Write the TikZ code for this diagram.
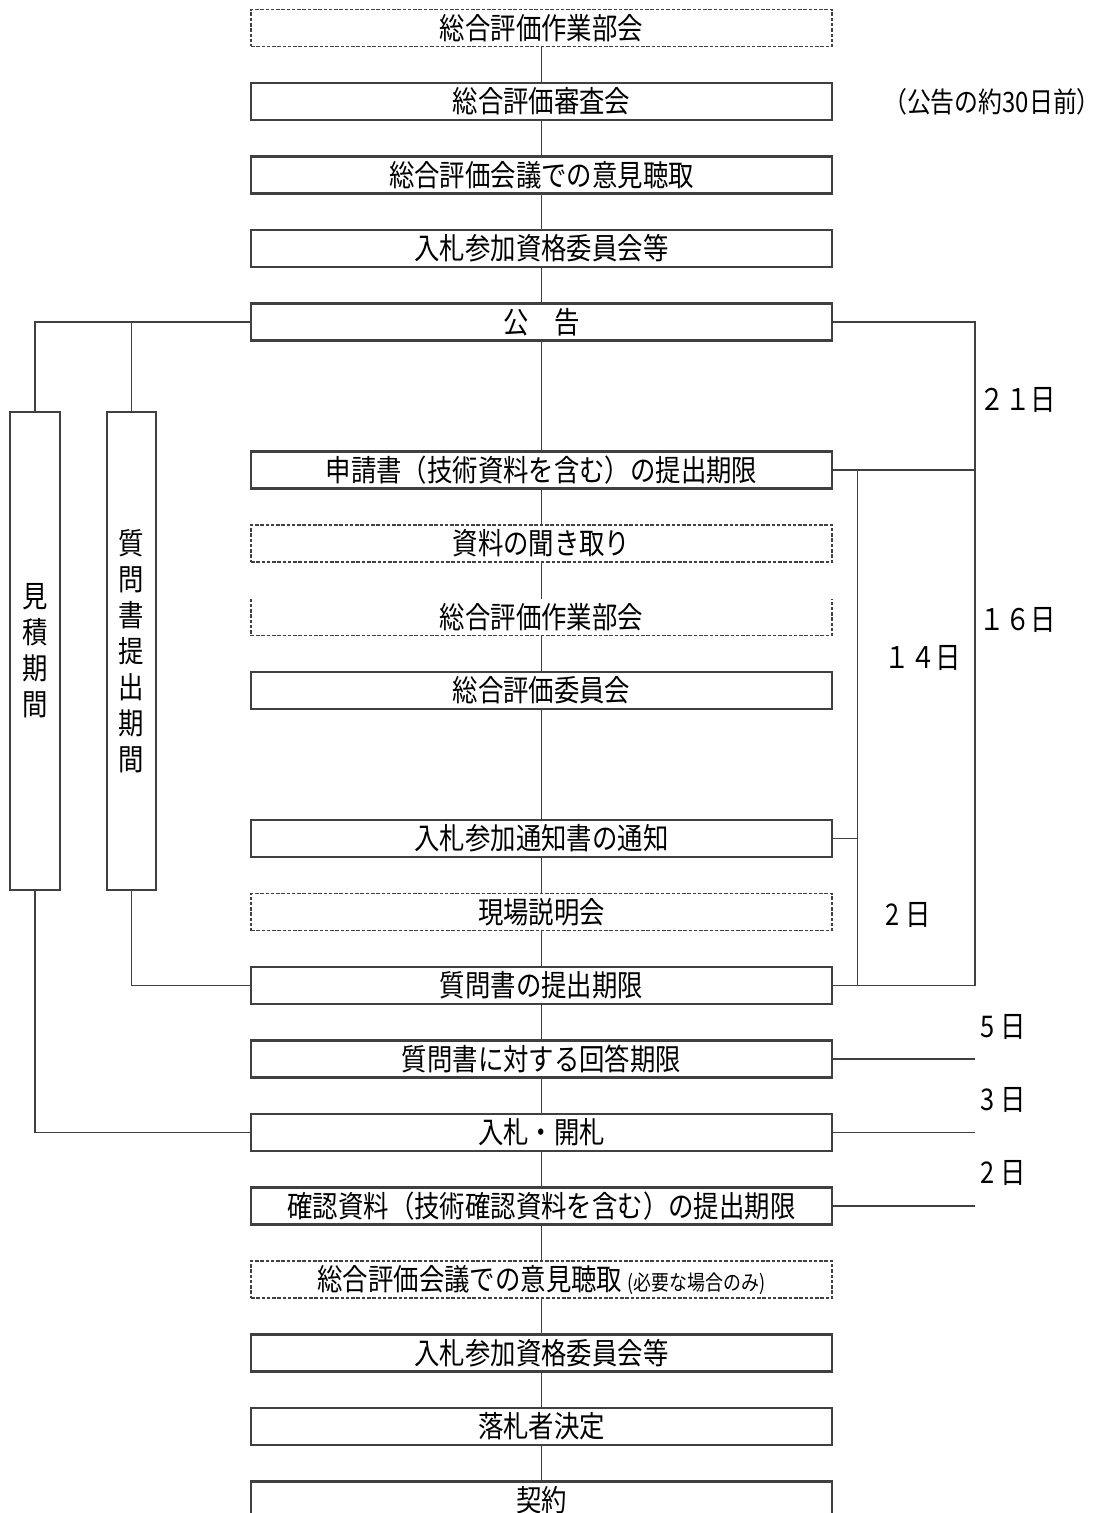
\documentclass[tikz,border=0pt]{standalone}
\usepackage{fontspec}
\setmainfont{Noto Sans CJK JP}[FakeStretch=0.85]
\usepackage{tikz}
\usetikzlibrary{positioning}
\definecolor{figline}{RGB}{64,64,64}
\tikzstyle{stepbox} = [rectangle, draw=figline, line width=1.2pt,
minimum width=11.62cm, minimum height=0.74cm, inner sep=0pt, outer sep=0pt,
text height=15pt, text depth=2pt,
align=center, font=\fontsize{17}{20}\selectfont]
\tikzstyle{optbox} = [stepbox, dash pattern=on 2pt off 1pt, line width=1.1pt]
\tikzstyle{periodbox} = [rectangle, draw=figline, line width=1.2pt,
minimum width=0.99cm, minimum height=9.56cm, inner sep=0pt,
align=center, font=\fontsize{17}{20.5}\selectfont]
\tikzstyle{link} = [draw=figline, line width=1pt]
\tikzstyle{daylabel} = [inner sep=0pt, font=\fontsize{17}{20}\selectfont]

\begin{document}
\begin{tikzpicture}[node distance=0.73cm]
    \path[use as bounding box] (0,0) rectangle (22.2,-30.26);
    \clip (0,0) rectangle (22.2,-30.26);

    \node (bukai1)    [optbox] at (10.83,-0.56) {総合評価作業部会};
    \node (shinsa)    [stepbox, below=of bukai1] {総合評価審査会};
    \node (iken1)     [stepbox, below=of shinsa] {総合評価会議での意見聴取};
    \node (shikaku1)  [stepbox, below=of iken1] {入札参加資格委員会等};
    \node (kokoku)    [stepbox, below=of shikaku1] {公　告};
    \node (shinsei)   [stepbox, below=2.22cm of kokoku] {申請書（技術資料を含む）の提出期限};
    \node (kikitori)  [optbox, below=of shinsei] {資料の聞き取り};
    \node (bukai2)    [stepbox, draw=none, below=of kikitori] {総合評価作業部会};
    \node (iinkai)    [stepbox, below=of bukai2] {総合評価委員会};
    \node (tsuchi)    [stepbox, below=2.22cm of iinkai] {入札参加通知書の通知};
    \node (genba)     [optbox, below=of tsuchi] {現場説明会};
    \node (qlimit)    [stepbox, below=of genba] {質問書の提出期限};
    \node (kaito)     [stepbox, below=of qlimit] {質問書に対する回答期限};
    \node (kaisatsu)  [stepbox, below=of kaito] {入札・開札};
    \node (kakunin)   [stepbox, below=of kaisatsu] {確認資料（技術確認資料を含む）の提出期限};
    \node (iken2)     [optbox, below=of kakunin]
    {総合評価会議での意見聴取 {\fontsize{12}{14}\selectfont (必要な場合のみ)}};
    \node (shikaku2)  [stepbox, below=of iken2] {入札参加資格委員会等};
    \node (rakusatsu) [stepbox, below=of shikaku2] {落札者決定};
    \node (keiyaku)   [stepbox, below=of rakusatsu] {契約};

    % open-topped dashed frame
    \draw[link, line width=1.1pt, dash pattern=on 2pt off 1pt] (bukai2.north west)
        -- (bukai2.south west) -- (bukai2.south east) -- (bukai2.north east);

    \node (mitsumori) [periodbox] at (0.7,-13.02) {見\\積\\期\\間};
    \node (shitsumon) [periodbox] at (2.63,-13.02) {質\\問\\書\\提\\出\\期\\間};

    \node (mae)  [daylabel, font=\fontsize{16}{20}\selectfont] at (19.84,-2.04) {（公告の約30日前）};
    \node (d21)  [daylabel] at (20.36,-8.0) {２１日};
    \node (d16)  [daylabel] at (20.36,-12.4) {１６日};
    \node (d14)  [daylabel] at (18.46,-13.16) {１４日};
    \node (d2a)  [daylabel] at (18.16,-18.3) {2 日};
    \node (d5)   [daylabel] at (20.06,-20.54) {5 日};
    \node (d3)   [daylabel] at (20.06,-22.0) {3 日};
    \node (d2b)  [daylabel] at (20.06,-23.46) {2 日};

    \coordinate (outer) at (19.5,0);
    \coordinate (inner) at (17.15,0);

    \draw[link] (bukai1)    -- (shinsa);
    \draw[link] (shinsa)    -- (iken1);
    \draw[link] (iken1)     -- (shikaku1);
    \draw[link] (shikaku1)  -- (kokoku);
    \draw[link] (kokoku)    -- (shinsei);
    \draw[link] (shinsei)   -- (kikitori);
    \draw[link] (kikitori)  -- (bukai2);
    \draw[link] (bukai2)    -- (iinkai);
    \draw[link] (iinkai)    -- (tsuchi);
    \draw[link] (tsuchi)    -- (genba);
    \draw[link] (genba)     -- (qlimit);
    \draw[link] (qlimit)    -- (kaito);
    \draw[link] (kaito)     -- (kaisatsu);
    \draw[link] (kaisatsu)  -- (kakunin);
    \draw[link] (kakunin)   -- (iken2);
    \draw[link] (iken2)     -- (shikaku2);
    \draw[link] (shikaku2)  -- (rakusatsu);
    \draw[link] (rakusatsu) -- (keiyaku);

    \draw[link] (kokoku.west) -| (mitsumori.north);
    \draw[link] (kokoku.west) -| (shitsumon.north);
    \draw[link] (mitsumori.south) |- (kaisatsu.west);
    \draw[link] (shitsumon.south) |- (qlimit.west);

    \draw[link] (kokoku.east) -| (outer |- qlimit.east) -- (qlimit.east);
    \draw[link] (shinsei.east) -- (outer |- shinsei.east);
    \draw[link] (inner |- shinsei.east) -- (inner |- qlimit.east);
    \draw[link] (tsuchi.east) -- (inner |- tsuchi.east);
    \draw[link] (kaito.east) -- (outer |- kaito.east);
    \draw[link] (kaisatsu.east) -- (outer |- kaisatsu.east);
    \draw[link] (kakunin.east) -- (outer |- kakunin.east);
\end{tikzpicture}
\end{document}
